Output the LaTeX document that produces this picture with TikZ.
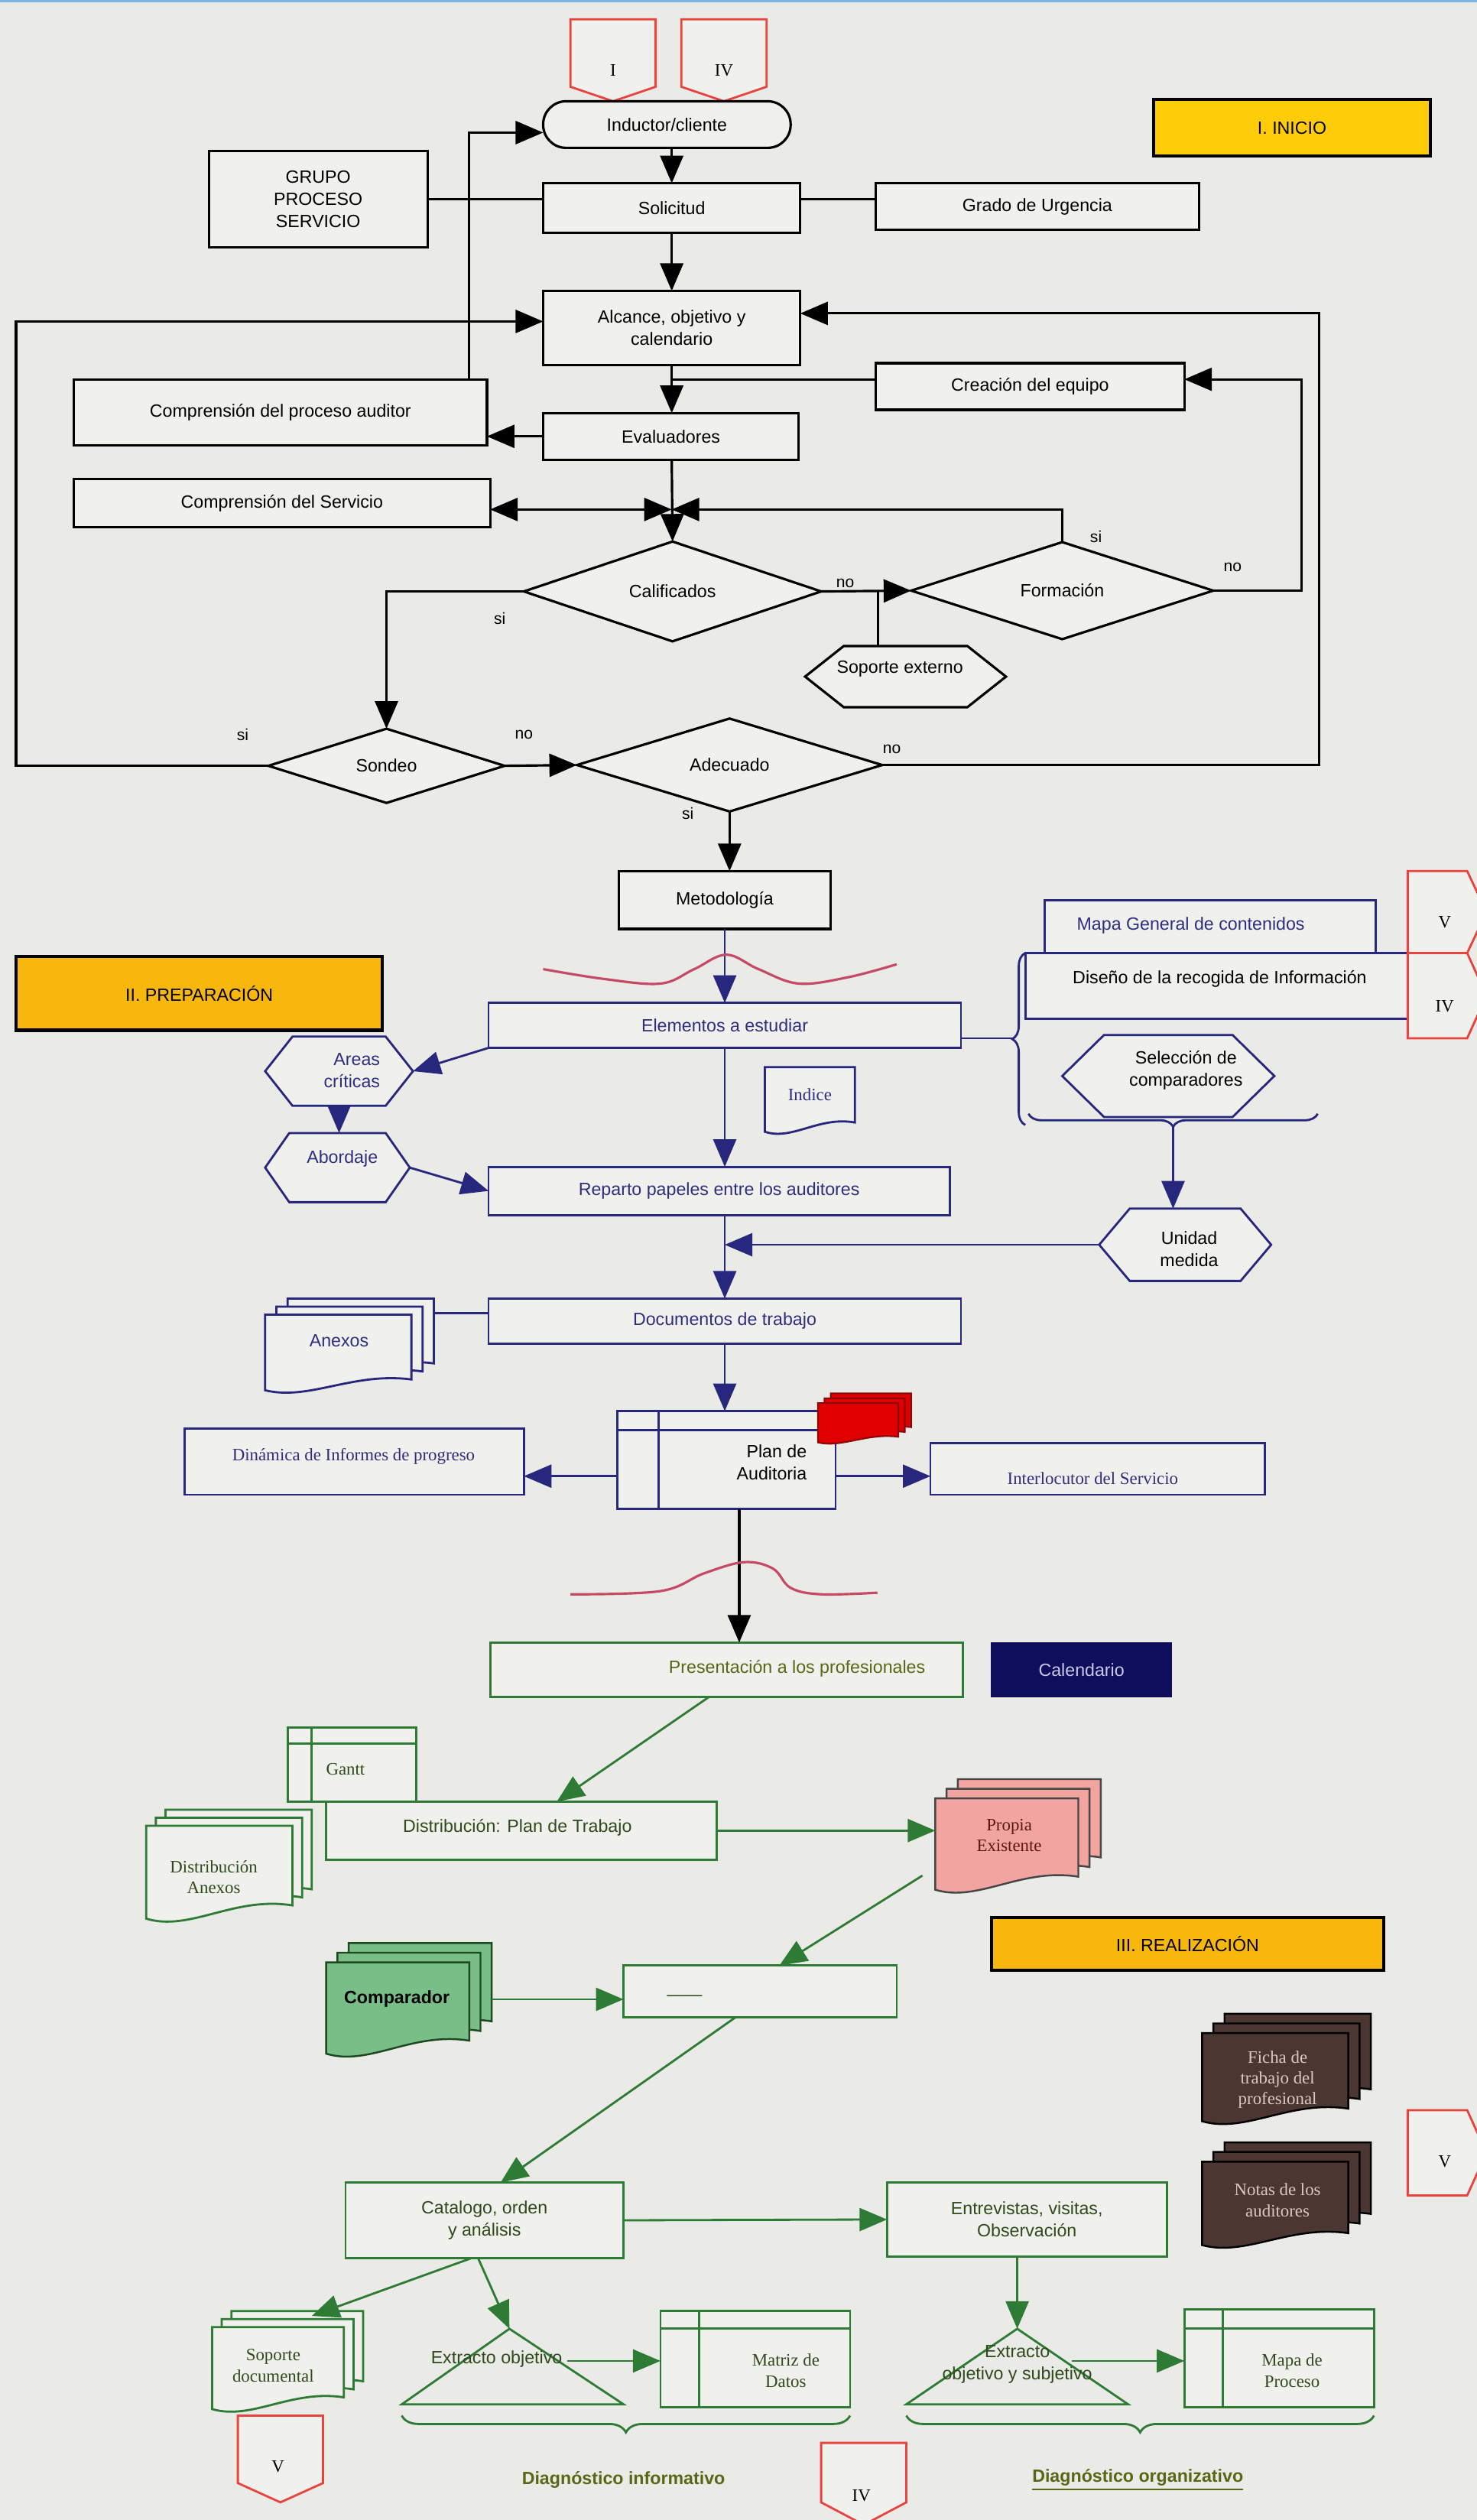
\documentclass[tikz,border=0pt]{standalone}
\usepackage{fontspec}
\setmainfont{Liberation Sans}
\newfontfamily\tms{Liberation Serif}
\usetikzlibrary{arrows.meta,calc,decorations.pathreplacing,shapes.geometric}
\definecolor{bgc}{HTML}{EAEAE6}
\definecolor{bxf}{HTML}{F0F0EC}
\definecolor{nv}{HTML}{27277E}
\definecolor{nvt}{HTML}{2E2E80}
\definecolor{gl}{HTML}{2E7B36}
\definecolor{gt}{HTML}{2F4A1C}
\definecolor{olv}{HTML}{5A6616}
\definecolor{yl1}{HTML}{FFCC0A}
\definecolor{yl2}{HTML}{F8B70C}
\definecolor{rdm}{HTML}{E8433F}
\definecolor{wv}{HTML}{C44A66}
\definecolor{cal}{HTML}{0E0E5C}
\definecolor{calt}{HTML}{C9C9EA}
\definecolor{pk}{HTML}{F2A5A0}
\definecolor{pkt}{HTML}{5A1A14}
\definecolor{cmp}{HTML}{78BE86}
\definecolor{brn}{HTML}{4C3631}
\definecolor{brt}{HTML}{D9C9C0}
\definecolor{redA}{HTML}{E00000}
\definecolor{redB}{HTML}{8A0A0A}
\definecolor{topb}{HTML}{7FB3E0}

\newcommand\bx[7]{\node[#2,minimum width={((#5)-(#3))*0.021012cm},minimum height={((#6)-(#4))*0.021012cm}] (#1) at ({((#3)+(#5))/2},{((#4)+(#6))/2}) {#7};}
\newcommand\hx[7]{\draw[#2] ({#3},{((#4)+(#6))/2}) -- ({(#3)+(#7)},{#4}) -- ({(#5)-(#7)},{#4}) -- ({#5},{((#4)+(#6))/2}) -- ({(#5)-(#7)},{#6}) -- ({(#3)+(#7)},{#6}) -- cycle;
\bx{#1}{}{#3}{#4}{#5}{#6}{}}
\newcommand\onedoc[5]{\draw[#5] ({#1},{#2}) -- ({#3},{#2}) -- ({#3},{(#4)-0.16*((#4)-(#2))}) .. controls ({(#1)+0.6*((#3)-(#1))},{(#4)-0.26*((#4)-(#2))}) and ({(#1)+0.3*((#3)-(#1))},{(#4)+0.12*((#4)-(#2))}) .. ({#1},{(#4)-0.02*((#4)-(#2))}) -- cycle;}
\newcommand\mdoc[8]{\onedoc{(#2)+2*(#7)}{#3}{#4}{(#5)-2*(#8)}{#6}
\onedoc{(#2)+(#7)}{(#3)+(#8)}{(#4)-(#7)}{(#5)-(#8)}{#6}
\onedoc{#2}{(#3)+2*(#8)}{(#4)-2*(#7)}{#5}{#6}
\bx{#1}{}{#2}{#3}{#4}{#5}{}}

\begin{document}
\begin{tikzpicture}[x=0.021012cm,y=-0.021012cm,
  >={Triangle[length=0.36cm,width=0.3cm]},
  every node/.style={inner sep=0pt,outer sep=0pt,align=center,font=\fontsize{6.6}{8.2}\selectfont},
  tm/.style={font=\tms\fontsize{6.5}{7.8}\selectfont},
  kb/.style={draw=black,line width=0.9pt,fill=bxf,text=black},
  bb/.style={draw=nv,line width=0.8pt,fill=bxf,text=nvt},
  gb/.style={draw=gl,line width=0.8pt,fill=bxf,text=gt},
  ttl/.style={draw=black,line width=1.2pt,text=black},
  kl/.style={draw=black,line width=0.9pt},
  bl/.style={draw=nv,line width=0.8pt},
  gline/.style={draw=gl,line width=0.8pt},
  mk/.style={draw=rdm,line width=0.8pt,fill=bxf},
  mkt/.style={font=\tms\fontsize{6.5}{8}\selectfont},
  lbl/.style={font=\fontsize{6}{7}\selectfont},
  wave/.style={draw=wv,line width=0.9pt}]
\useasboundingbox (0,0) rectangle (919,1568);
\fill[bgc] (0,0) rectangle (919,1568);
\clip (0,0) rectangle (919,1568);
\fill[topb] (0,0) rectangle (919,1.4);

% ===================== I. INICIO =====================
\draw[mk] (355,12) -- (408,12) -- (408,54) -- (381.5,63) -- (355,54) -- cycle;
\node[mkt] (mI) at (381.5,44) {I};
\draw[mk] (424,12) -- (477,12) -- (477,54) -- (450.5,63) -- (424,54) -- cycle;
\node[mkt] (mIV) at (450.5,44) {IV};
\bx{inductor}{kb,rounded corners=0.3cm}{338}{63}{492}{92}{Inductor/cliente}
\bx{inicio}{ttl,fill=yl1}{718}{62}{890}{97}{I. INICIO}
\bx{grupo}{kb}{130}{94}{266}{154}{GRUPO\\PROCESO\\SERVICIO}
\bx{solicitud}{kb}{338}{114}{498}{145}{Solicitud}
\bx{grado}{kb}{545}{114}{746}{143}{Grado de Urgencia}
\bx{alcance}{kb}{338}{181}{498}{227}{Alcance, objetivo y\\calendario}
\bx{cpa}{kb}{46}{236}{303}{277}{Comprensión del proceso auditor}
\bx{creacion}{kb}{545}{226}{737}{255}{Creación del equipo}
\bx{evaluadores}{kb}{338}{257}{497}{286}{Evaluadores}
\bx{cs}{kb}{46}{298}{305}{328}{Comprensión del Servicio}
\bx{calificados}{kb,diamond}{326}{343}{511}{393}{Calificados}
\bx{formacion}{kb,diamond}{567}{342}{755}{393}{Formación}
\hx{soporte}{kb}{501}{402}{626}{440}{24}
\node (soporte-t) at (560,416) {Soporte externo};
\bx{sondeo}{kb,diamond}{167}{457}{314}{496}{Sondeo}
\bx{adecuado}{kb,diamond}{359}{450}{549}{502}{Adecuado}
\bx{metodologia}{kb}{385}{542}{517}{578}{Metodología}

\draw[kl,->] (solicitud.north |- inductor.south) -- (solicitud.north);
\draw[kl] (grupo.east) -- (grupo.east -| solicitud.west);
\draw[kl] (solicitud.east |- grupo.east) -- (grado.west |- grupo.east);
\draw[kl,->] (solicitud.south) -- (alcance.north);
\draw[kl,->] ($(cpa.north east)+(-11,0)$) |- ($(inductor.west)+(0,5)$);
\draw[kl,->] (sondeo.west) -| (10,200) -- (alcance.west |- 0,200);
\draw[kl,->] (adecuado.east) -| (821,195) -- (alcance.east |- 0,195);
\draw[kl,->] (formacion.east) -| (810,236) -- (creacion.east |- 0,236);
\draw[kl] (creacion.west |- 0,236) -- (alcance.south |- 0,236);
\draw[kl,->] (alcance.south) -- (alcance.south |- evaluadores.north);
\draw[kl,->] (evaluadores.west) -- (evaluadores.west -| cpa.east);
\coordinate (jn) at (418,317);
\draw[kl,->] (evaluadores.south -| jn) -- (calificados.north);
\draw[kl,<->] (cs.east |- jn) -- (jn);
\draw[kl,->] (formacion.north) |- (jn);
\draw[kl,->] (calificados.east) -- (formacion.west);
\coordinate (sxt) at ($(soporte.north)+(-17,0)$);
\draw[kl] (sxt) -- (sxt |- calificados.east);
\draw[kl,->] (calificados.west) -| (sondeo.north);
\draw[kl,->] (sondeo.east) -- (adecuado.west);
\draw[kl,->] (adecuado.south) -- (adecuado.south |- metodologia.north);

\node[lbl] (l1) at (311,385) {si};
\node[lbl] (l2) at (526,363) {no};
\node[lbl] (l3) at (682,334) {si};
\node[lbl] (l4) at (767,353) {no};
\node[lbl] (l5) at (151,457) {si};
\node[lbl] (l6) at (326,457) {no};
\node[lbl] (l7) at (555,466) {no};
\node[lbl] (l8) at (428,506) {si};

% ===================== II. PREPARACION =====================
\bx{prep}{ttl,fill=yl2}{10}{595}{238}{641}{II. PREPARACIÓN}
\bx{elementos}{bb}{304}{624}{598}{652}{Elementos a estudiar}
\draw[bl,->] (metodologia.south) -- (metodologia.south |- elementos.north);
\draw[wave] plot[smooth,tension=0.6] coordinates {(338,603) (375,609) (411,612) (432,603) (452,594) (472,603) (497,612) (528,608) (558,600)};
\bx{mapag}{bb}{650}{560}{856}{593}{}
\node[text=nvt] (mapag-t) at (741,576) {Mapa General de contenidos};
\bx{diseno}{bb}{638}{593}{876}{634}{}
\node[text=black] (diseno-t) at (759,609) {Diseño de la recogida de Información};
\draw[mk] (876,542) -- (913,542) -- (925,567.5) -- (913,593) -- (876,593) -- cycle;
\node[mkt] (mV1) at (899,574) {V};
\draw[mk] (876,593) -- (913,593) -- (925,619.5) -- (913,646) -- (876,646) -- cycle;
\node[mkt] (mIV2) at (899,626) {IV};
\hx{seleccion}{bl,fill=bxf}{661}{644}{793}{695}{26}
\node[text=black] (seleccion-t) at (738,666) {Selección de\\comparadores};
\draw[bl,decorate,decoration={brace,amplitude=0.17cm}] (638,700) -- (638,593);
\draw[bl,decorate,decoration={brace,amplitude=0.17cm}] (820,693) -- (640,693);
\coordinate (bt1) at (630,646);
\draw[bl] (elementos.east |- bt1) -- (bt1);
\hx{areas}{bl,fill=bxf}{165}{645}{257}{688}{17}
\node[text=nvt,align=right] (areas-t) at (219,666) {Areas\\críticas};
\hx{abordaje}{bl,fill=bxf}{165}{705}{255}{748}{15}
\node[text=nvt] (abordaje-t) at (213,721) {Abordaje};
\onedoc{476}{664}{532}{705}{bl,fill=bxf}
\node[tm,text=nvt] (indice) at (504,681) {Indice};
\bx{reparto}{bb}{304}{726}{591}{756}{Reparto papeles entre los auditores}
\hx{unidad}{bl,fill=bxf}{684}{752}{791}{797}{19}
\node[text=black] (unidad-t) at (740,777) {Unidad\\medida};
\bx{documentos}{bb}{304}{808}{598}{836}{Documentos de trabajo}
\mdoc{anexos}{165}{808}{270}{866}{bl,fill=bxf}{7}{5}
\node[text=nvt] (anexos-t) at (211,834) {Anexos};
\bx{plan}{bb}{384}{878}{520}{939}{}
\draw[bl] (410,878) -- (410,939);
\draw[bl] (384,890) -- (520,890);
\node[text=black,align=right,anchor=east] (plan-t) at (502,910) {Plan de\\Auditoria};
\mdoc{reddoc}{509}{867}{567}{898}{draw=redB,fill=redA,line width=0.6pt}{4}{3}
\bx{dinamica}{bb}{115}{889}{326}{930}{}
\node[tm,text=nvt] (dinamica-t) at (220,906) {Dinámica de Informes de progreso};
\bx{interlocutor}{bb}{579}{898}{787}{930}{}
\node[tm,text=nvt] (interlocutor-t) at (680,920) {Interlocutor del Servicio};

\draw[bl,->] (elementos.south west) -- (areas.east);
\draw[bl,->] (areas.south) -- (areas.south |- abordaje.north);
\draw[bl,->] (abordaje.east) -- (reparto.west);
\draw[bl,->] (elementos.south) -- (elementos.south |- reparto.north);
\coordinate (bt2) at (730,701);
\draw[bl,->] (bt2) -- (bt2 |- unidad.north);
\draw[bl,->] (unidad.west) -- (unidad.west -| elementos.south);
\draw[bl,->] (elementos.south |- reparto.south) -- (elementos.south |- documentos.north);
\draw[bl] (anexos.east |- 0,817) -- (documentos.west |- 0,817);
\draw[bl,->] (elementos.south |- documentos.south) -- (elementos.south |- plan.north);
\coordinate (pw) at ($(plan.west)+(0,10)$);
\draw[bl,->] (pw) -- (pw -| dinamica.east);
\coordinate (pe) at ($(plan.east)+(0,10)$);
\draw[bl,->] (pe) -- (pe -| interlocutor.west);

% ===================== III. REALIZACION =====================
\bx{presentacion}{gb}{305}{1022}{599}{1056}{}
\node[text=olv] (presentacion-t) at (496,1038) {Presentación a los profesionales};
\bx{calendario}{draw=cal,fill=cal,text=calt}{617}{1022}{729}{1056}{Calendario}
\coordinate (ps) at ($(plan.south)+(8,0)$);
\draw[kl,->] (ps) -- (ps |- presentacion.north);
\draw[wave] plot[smooth,tension=0.6] coordinates {(355,992) (411,990) (438,979) (463,972) (481,976) (492,988) (511,992) (546,991)};

\bx{gantt}{gb}{179}{1075}{259}{1121}{}
\draw[gline] (194,1075) -- (194,1121);
\draw[gline] (179,1085) -- (259,1085);
\node[tm,text=gt] (gantt-t) at (215,1101) {Gantt};
\bx{distribucion}{gb}{203}{1121}{446}{1157}{}
\node[text=gt] (distribucion-t) at (322,1137) {Distribución: Plan de Trabajo};
\mdoc{danexos}{91}{1126}{194}{1195}{gline,fill=bxf}{6}{5}
\node[tm,text=gt] (danexos-t) at (133,1168) {Distribución\\Anexos};
\mdoc{propia}{582}{1107}{685}{1177}{draw=gray!55!black,line width=0.7pt,fill=pk}{7}{6}
\node[tm,text=pkt] (propia-t) at (628,1142) {Propia\\Existente};
\bx{realiz}{ttl,fill=yl2}{617}{1193}{861}{1226}{III. REALIZACIÓN}
\mdoc{comparador}{203}{1209}{306}{1279}{draw=gl!60!black,line width=0.7pt,fill=cmp}{7}{6}
\node[font=\bfseries\fontsize{6.6}{8.2}\selectfont] (comparador-t) at (247,1244) {Comparador};
\bx{blank}{gb}{388}{1223}{558}{1255}{}
\node[text=gt] (dash) at (426,1243) {——};
\mdoc{ficha}{748}{1253}{853}{1321}{draw=black,line width=0.7pt,fill=brn}{7}{6}
\node[tm,text=brt] (ficha-t) at (795,1294) {Ficha de\\trabajo del\\profesional};
\mdoc{notas}{748}{1333}{853}{1398}{draw=black,line width=0.7pt,fill=brn}{7}{6}
\node[tm,text=brt] (notas-t) at (795,1369) {Notas de los\\auditores};
\draw[mk] (876,1313) -- (913,1313) -- (925,1339.5) -- (913,1366) -- (876,1366) -- cycle;
\node[mkt] (mV2) at (899,1345) {V};
\bx{catalogo}{gb}{215}{1358}{388}{1405}{Catalogo, orden\\y análisis}
\bx{entrevistas}{gb}{552}{1358}{726}{1404}{Entrevistas, visitas,\\Observación}
\mdoc{soportedoc}{132}{1438}{226}{1500}{gline,fill=bxf}{6}{5}
\node[tm,text=gt] (soportedoc-t) at (170,1472) {Soporte\\documental};
\draw[gline] (250,1496) -- (317,1449) -- (388,1496) -- cycle;
\coordinate (e1a) at (317,1449);
\coordinate (e1r) at (353,1469);
\node[text=gt] (ext1) at (309,1468) {Extracto objetivo};
\bx{matriz}{gb}{411}{1438}{529}{1498}{}
\draw[gline] (435,1438) -- (435,1498);
\draw[gline] (411,1449) -- (529,1449);
\node[tm,text=gt] (matriz-t) at (489,1475) {Matriz de\\Datos};
\draw[gline] (564,1496) -- (633,1449) -- (702,1496) -- cycle;
\coordinate (e2a) at (633,1449);
\coordinate (e2r) at (667,1469);
\node[text=gt] (ext2) at (633,1471) {Extracto\\objetivo y subjetivo};
\bx{mapaproc}{gb}{737}{1437}{855}{1498}{}
\draw[gline] (761,1437) -- (761,1498);
\draw[gline] (737,1449) -- (855,1449);
\node[tm,text=gt] (mapaproc-t) at (804,1475) {Mapa de\\Proceso};
\draw[gline,decorate,decoration={brace,amplitude=0.22cm}] (529,1503) -- (250,1503);
\draw[gline,decorate,decoration={brace,amplitude=0.22cm}] (855,1503) -- (564,1503);
\draw[mk] (148,1503) -- (201,1503) -- (201,1545) -- (174.5,1557) -- (148,1545) -- cycle;
\node[mkt] (mV3) at (173,1535) {V};
\draw[mk] (511,1520) -- (564,1520) -- (564,1557) -- (537.5,1571) -- (511,1557) -- cycle;
\node[mkt] (mIV3) at (536,1553) {IV};
\node[text=olv,font=\bfseries\fontsize{6.6}{8.2}\selectfont] (diag1) at (388,1543) {Diagnóstico informativo};
\node[text=olv,font=\bfseries\fontsize{6.6}{8.2}\selectfont] (diag2) at (708,1543) {\underline{Diagnóstico organizativo}};

\draw[gline,->] ($(presentacion.south)+(-11,0)$) -- ($(distribucion.north)+(22,0)$);
\draw[gline,->] (distribucion.east) -- (distribucion.east -| propia.west);
\draw[gline,->] ($(propia.south west)+(-8,-10)$) -- ($(blank.north)+(12,0)$);
\draw[gline,->] (comparador.east) -- (comparador.east -| blank.west);
\draw[gline,->] ($(blank.south)+(-15,0)$) -- ($(catalogo.north)+(10,0)$);
\draw[gline,->] (catalogo.east) -- (entrevistas.west);
\draw[gline,->] ($(catalogo.south)+(-8,0)$) -- ($(soportedoc.north)+(15,3)$);
\draw[gline,->] ($(catalogo.south)+(-4,0)$) -- (e1a);
\draw[gline,->] (e2a |- entrevistas.south) -- (e2a);
\draw[gline,->] (e1r) -- (e1r -| matriz.west);
\draw[gline,->] (e2r) -- (e2r -| mapaproc.west);
\end{tikzpicture}
\end{document}
